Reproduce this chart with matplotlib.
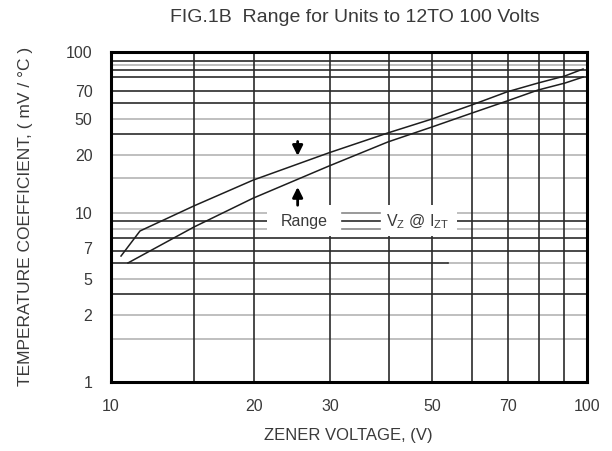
import matplotlib
matplotlib.use("Agg")
import matplotlib.pyplot as plt
import matplotlib.patches as patches

plt.rcParams['font.family'] = ['Liberation Sans', 'DejaVu Sans']

# curve readings (zener voltage V, temp. coefficient mV/C)
upper_v = [10.52, 11.53, 14.97, 19.9, 28.7, 38.2, 47.3, 57.4, 67.9, 78.9, 89.9, 98.1]
upper_tc = [5.76, 8.17, 11.6, 16.6, 24.3, 32.1, 39.0, 47.5, 56.9, 64.4, 71.1, 78.3]
lower_v = [10.88, 14.97, 19.9, 28.7, 38.2, 47.3, 57.4, 67.9, 78.9, 89.9, 98.1]
lower_tc = [5.23, 8.64, 12.9, 20.2, 28.3, 34.9, 42.4, 50.1, 58.4, 64.4, 70.0]

xtick_labels = ['10', '20', '30', '50', '70', '100']
ytick_labels = ['1', '2', '5', '7', '10', '20', '50', '70', '100']

# where the printed chart puts its labels / grid (scan is not true log spacing)
xtick_pos = [10, 20.0, 28.9, 47.3, 68.3, 100]
ytick_pos = [1, 2.53, 4.18, 6.4, 10.5, 23.6, 38.8, 58.0, 100]
vgrid = [14.97, 20.0, 28.9, 38.4, 47.3, 57.4, 68.3, 79.3, 89.5]
hgrid_dark = [87.9, 77.3, 69.6, 58.0, 48.5, 31.8, 9.33, 7.41, 6.21, 3.41]
hgrid_light = [83.4, 38.8, 23.6, 17.0, 10.5, 8.36, 4.18, 2.53, 1.81]

DARK = '#2b2b2b'
LIGHT = '#b4b4b4'
TXT = '#3a3a3a'

fig = plt.figure(figsize=(6.12, 4.51), dpi=100)
ax = fig.add_axes([0.1806, 0.1541, 0.7786, 0.7317])
ax.set_xscale('log')
ax.set_yscale('log')
ax.set_xlim(10, 100)
ax.set_ylim(1, 100)

for y in hgrid_light:
    ax.axhline(y, color=LIGHT, lw=1.2, zorder=1)
for y in hgrid_dark:
    ax.axhline(y, color=DARK, lw=1.2, zorder=2)
# 5 line: dark on the left, light on the right
ax.plot([10, 51], [5.23, 5.23], color=DARK, lw=1.2, zorder=2)
ax.plot([51, 100], [5.23, 5.23], color=LIGHT, lw=1.2, zorder=1)
for x in vgrid:
    ax.axvline(x, color=DARK, lw=1.2, zorder=2)

# white band behind the range note
band = patches.Rectangle((21.3, 7.6), 53.3 - 21.3, 11.7 - 7.6, facecolor='white',
                         edgecolor='none', zorder=3)
ax.add_patch(band)
for y, c in [(10.5, '#888888'), (9.33, DARK), (8.36, '#888888')]:
    ax.plot([30.6, 36.8], [y, y], color=c, lw=1.2, zorder=4)

ax.text(25.5, 9.3, 'Range', ha='center', va='center', fontsize=11.5, color=TXT, zorder=5)
ax.text(44.2, 9.3, r'V$_\mathregular{Z}$ @ I$_\mathregular{ZT}$', ha='center', va='center',
        fontsize=11.5, color=TXT, zorder=5)

# arrows pointing at the range
arr = dict(arrowstyle='-|>,head_width=0.3,head_length=0.6', color='black', lw=2,
           shrinkA=0, shrinkB=0)
ax.annotate('', xy=(24.7, 23.3), xytext=(24.7, 28.5), arrowprops=arr, zorder=6)
ax.annotate('', xy=(24.7, 15.1), xytext=(24.7, 11.7), arrowprops=arr, zorder=6)

ax.plot(upper_v, upper_tc, color='#1e1e1e', lw=1.1, zorder=5)
ax.plot(lower_v, lower_tc, color='#1e1e1e', lw=1.1, zorder=5)

ax.set_xticks(xtick_pos)
ax.set_xticklabels(xtick_labels)
ax.set_yticks(ytick_pos)
ax.set_yticklabels(ytick_labels)
ax.minorticks_off()
ax.tick_params(axis='both', length=0, labelsize=11.5, labelcolor=TXT)
ax.tick_params(axis='x', pad=12.5)
ax.tick_params(axis='y', pad=13)

for s in ax.spines.values():
    s.set_linewidth(2.2)
    s.set_color('black')
    s.set_zorder(7)

ax.set_title('FIG.1B  Range for Units to 12TO 100 Volts', fontsize=14, color=TXT,
             pad=21, x=0.512)
ax.set_xlabel('ZENER VOLTAGE, (V)', fontsize=12, color=TXT, labelpad=10)
ax.set_ylabel('TEMPERATURE COEFFICIENT, ( mV / °C )', fontsize=12.5, color=TXT, labelpad=24)

fig.savefig('out.png', dpi=100)
